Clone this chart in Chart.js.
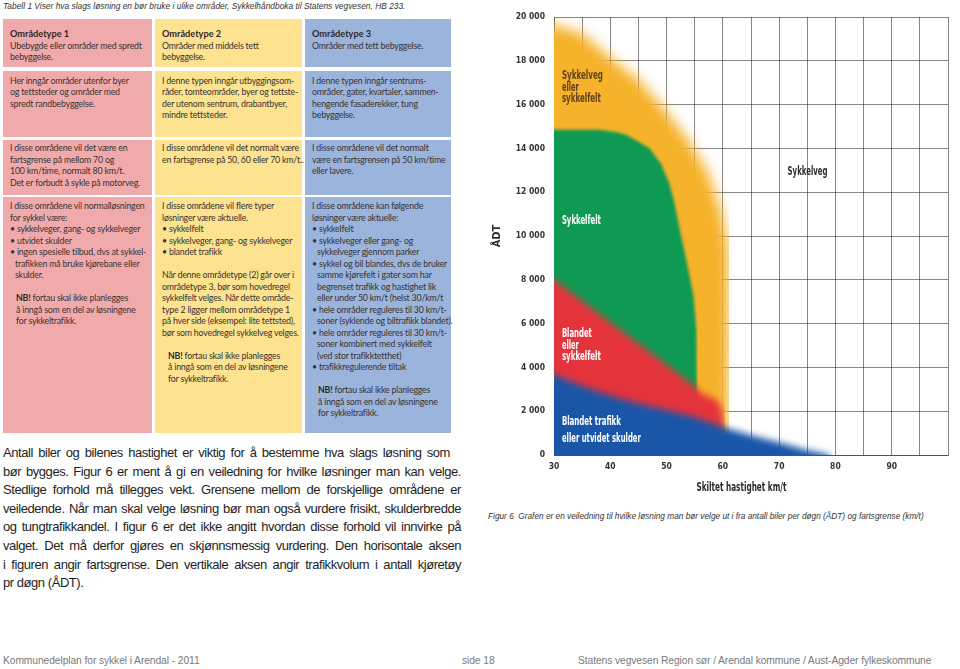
<!DOCTYPE html>
<html lang="no">
<head>
<meta charset="utf-8">
<title>Kommunedelplan for sykkel i Arendal</title>
<script src="https://cdn.jsdelivr.net/npm/chart.js@4.4.1/dist/chart.umd.min.js"></script>
<style>
  html, body { margin: 0; padding: 0; background: #fff; }
  body { width: 960px; height: 669px; position: relative; overflow: hidden; font-family: 'Liberation Sans', Arial, sans-serif; color: #222; }
  .abs { position: absolute; }
  .tabcap { left: 3px; top: 0; font-style: italic; font-size: 9.7px; line-height: 11px; color: #333; white-space: nowrap; transform: scaleX(0.865); transform-origin: 0 0; }
  .cell { position: absolute; box-sizing: border-box; padding-left: 7px; font-family: Lato, 'Open Sans', sans-serif; font-size: 8.8px; letter-spacing: -0.2px; line-height: 11.5px; color: #3a3232; white-space: nowrap; }
  .pink { background: #f1aaab; }
  .yel { background: #fde28f; }
  .blu { background: #9ab4dc; }
  .cell b { font-weight: 700; color: #33282a; }
  .cell .t { font-size: 9.2px; letter-spacing: 0; }
  .ind { padding-left: 5px; }
  .nb { padding-left: 6px; }
  .para { left: 3px; top: 444px; font-size: 13px; line-height: 18.6px; color: #1e1e1e; letter-spacing: -0.45px; }
  .para div { width: 458px; text-align: justify; text-align-last: justify; }
  .para div.first { width: 447px; }
  .para div.last { text-align-last: left; }
  .figcap { left: 488px; top: 511px; font-style: italic; font-size: 9.2px; color: #333; white-space: nowrap; transform: scaleX(0.9); transform-origin: 0 0; }
  .foot { top: 655px; font-size: 10.3px; color: #7a7a7a; white-space: nowrap; letter-spacing: -0.1px; }
  #chartBox { position: absolute; left: 484px; top: 0; width: 476px; height: 500px; }
</style>
</head>
<body>

<div class="abs tabcap">Tabell 1 Viser hva slags løsning en bør bruke i ulike områder, Sykkelhåndboka til Statens vegvesen, HB 233.</div>

<!-- rad 1 -->
<div class="cell pink" style="left:3px;top:19px;width:149px;height:48px;padding-top:9px">
  <div><b class="t">Områdetype 1</b></div><div>Ubebygde eller områder med spredt</div><div>bebyggelse.</div>
</div>
<div class="cell yel" style="left:155px;top:19px;width:147px;height:48px;padding-top:9px">
  <div><b class="t">Områdetype 2</b></div><div>Områder med middels tett</div><div>bebyggelse.</div>
</div>
<div class="cell blu" style="left:305px;top:19px;width:146px;height:48px;padding-top:9px">
  <div><b class="t">Områdetype 3</b></div><div>Områder med tett bebyggelse.</div>
</div>

<!-- rad 2 -->
<div class="cell pink" style="left:3px;top:71px;width:149px;height:66px;padding-top:3.5px">
  <div>Her inngår områder utenfor byer</div><div>og tettsteder og områder med</div><div>spredt randbebyggelse.</div>
</div>
<div class="cell yel" style="left:155px;top:71px;width:147px;height:66px;padding-top:3.5px">
  <div>I denne typen inngår utbyggingsom-</div><div>råder, tomteområder, byer og tettste-</div><div>der utenom sentrum, drabantbyer,</div><div>mindre tettsteder.</div>
</div>
<div class="cell blu" style="left:305px;top:71px;width:146px;height:66px;padding-top:3.5px">
  <div>I denne typen inngår sentrums-</div><div>områder, gater, kvartaler, sammen-</div><div>hengende fasaderekker, tung</div><div>bebyggelse.</div>
</div>

<!-- rad 3 -->
<div class="cell pink" style="left:3px;top:140px;width:149px;height:55px;padding-top:2px">
  <div>I disse områdene vil det være en</div><div>fartsgrense på mellom 70 og</div><div>100 km/time, normalt 80 km/t.</div><div>Det er forbudt å sykle på motorveg.</div>
</div>
<div class="cell yel" style="left:155px;top:140px;width:147px;height:55px;padding-top:2px">
  <div>I disse områdene vil det normalt være</div><div>en fartsgrense på 50, 60 eller 70 km/t..</div>
</div>
<div class="cell blu" style="left:305px;top:140px;width:146px;height:55px;padding-top:2px">
  <div>I disse områdene vil det normalt</div><div>være en fartsgrensen på 50 km/time</div><div>eller lavere.</div>
</div>

<!-- rad 4 -->
<div class="cell pink" style="left:3px;top:197px;width:149px;height:236px;padding-top:3px">
  <div>I disse områdene vil normalløsningen</div><div>for sykkel være:</div>
  <div>• sykkelveger, gang- og sykkelveger</div><div>• utvidet skulder</div>
  <div>• ingen spesielle tilbud, dvs at sykkel-</div><div class="ind">trafikken må bruke kjørebane eller</div><div class="ind">skulder.</div>
  <div>&nbsp;</div>
  <div class="nb"><b>NB!</b> fortau skal ikke planlegges</div><div class="nb">å inngå som en del av løsningene</div><div class="nb">for sykkeltrafikk.</div>
</div>
<div class="cell yel" style="left:155px;top:197px;width:147px;height:236px;padding-top:3px">
  <div>I disse områdene vil flere typer</div><div>løsninger være aktuelle.</div>
  <div>• sykkelfelt</div><div>• sykkelveger, gang- og sykkelveger</div><div>• blandet trafikk</div>
  <div>&nbsp;</div>
  <div>Når denne områdetype (2) går over i</div><div>områdetype 3, bør som hovedregel</div><div>sykkelfelt velges. Når dette område-</div><div>type 2 ligger mellom områdetype 1</div><div>på hver side (eksempel: lite tettsted),</div><div>bør som hovedregel sykkelveg velges.</div>
  <div>&nbsp;</div>
  <div class="nb"><b>NB!</b> fortau skal ikke planlegges</div><div class="nb">å inngå som en del av løsningene</div><div class="nb">for sykkeltrafikk.</div>
</div>
<div class="cell blu" style="left:305px;top:197px;width:146px;height:236px;padding-top:3px">
  <div>I disse områdene kan følgende</div><div>løsninger være aktuelle:</div>
  <div>• sykkelfelt</div><div>• sykkelveger eller gang- og</div><div class="ind">sykkelveger gjennom parker</div>
  <div>• sykkel og bil blandes, dvs de bruker</div><div class="ind">samme kjørefelt i gater som har</div><div class="ind">begrenset trafikk og hastighet lik</div><div class="ind">eller under 50 km/t (helst 30/km/t</div>
  <div>• hele områder reguleres til 30 km/t-</div><div class="ind">soner (syklende og biltrafikk blandet).</div>
  <div>• hele områder reguleres til 30 km/t-</div><div class="ind">soner kombinert med sykkelfelt</div><div class="ind">(ved stor trafikktetthet)</div>
  <div>• trafikkregulerende tiltak</div>
  <div>&nbsp;</div>
  <div class="nb"><b>NB!</b> fortau skal ikke planlegges</div><div class="nb">å inngå som en del av løsningene</div><div class="nb">for sykkeltrafikk.</div>
</div>

<div class="abs para">
  <div class="first">Antall biler og bilenes hastighet er viktig for å bestemme hva slags løsning som</div>
  <div>bør bygges. Figur 6 er ment å gi en veiledning for hvilke løsninger man kan velge.</div>
  <div>Stedlige forhold må tillegges vekt. Grensene mellom de forskjellige områdene er</div>
  <div>veiledende. Når man skal velge løsning bør man også vurdere frisikt, skulderbredde</div>
  <div>og tungtrafikkandel. I figur 6 er det ikke angitt hvordan disse forhold vil innvirke på</div>
  <div>valget. Det må derfor gjøres en skjønnsmessig vurdering. Den horisontale aksen</div>
  <div>i figuren angir fartsgrense. Den vertikale aksen angir trafikkvolum i antall kjøretøy</div>
  <div class="last">pr døgn (ÅDT).</div>
</div>

<div id="chartBox"><canvas id="adtChart"></canvas></div>

<div class="abs figcap">Figur 6&nbsp; Grafen er en veiledning til hvilke løsning man bør velge ut i fra antall biler per døgn (ÅDT) og fartsgrense (km/t)</div>

<div class="abs foot" style="left:3px">Kommunedelplan for sykkel i Arendal - 2011</div>
<div class="abs foot" style="left:462px">side 18</div>
<div class="abs foot" style="left:578px">Statens vegvesen Region sør / Arendal kommune / Aust-Agder fylkeskommune</div>

<script>
// ovre kant av hver sone, lest av figuren (x = skiltet hastighet km/t, y = ÅDT)
const blandetX = [25, 30, 35, 40, 45, 50, 55, 60, 65, 70, 75, 78, 79, 79.5];
const blandetY = [4100, 3680, 3150, 2700, 2350, 2050, 1720, 1280, 900, 570, 220, 60, 0, -3000];

const blandetFeltX = [25, 30, 35, 40, 45, 50, 55, 56.5, 58.9, 59.8, 60.2, 60.4];
const blandetFeltY = [9000, 8000, 7030, 6060, 5090, 4120, 3150, 2760, 2530, 2100, 1200, -3000];

const sykkelfeltX = [25, 30, 38, 41, 43, 45, 47, 49, 50.5, 51.5, 52.4, 53.6, 54.8, 55.3, 55.4, 55.5];
const sykkelfeltY = [14850, 14850, 14850, 14750, 14600, 14300, 14000, 13300, 12400, 11400, 10200, 8800, 7250, 5700, 3000, -3000];

const sykkelvegX = [25, 30, 35, 40, 45, 49.7, 53.8, 57.4, 59.8, 61, 61.1];
const sykkelvegY = [19800, 19650, 19250, 18140, 17150, 15780, 14400, 12900, 11070, 9500, -3000];

const fartLabels = [30, 40, 50, 60, 70, 80, 90];
const fartMin = 30, fartMax = 100;
const adtMin = 0, adtMax = 20000, adtStep = 2000;

const narrow = "'DejaVu Sans Condensed', 'Liberation Sans', sans-serif";

function pts(xs, ys) {
  return xs.map((x, i) => ({ x: x, y: ys[i] }));
}

// tekst inne i sonene
const zoneLabels = [
  { lines: ['Sykkelveg', 'eller', 'sykkelfelt'], x: 31.4, y: 17330, w: [41, 17, 39], color: '#5e3f1a' },
  { lines: ['Sykkelveg'], x: 71.5, y: 12960, w: [40], color: '#2b2b2b' },
  { lines: ['Sykkelfelt'], x: 31.4, y: 10680, w: [39], color: '#ffffff' },
  { lines: ['Blandet', 'eller', 'sykkelfelt'], x: 31.4, y: 5550, w: [30, 17, 39], color: '#ffffff' },
  { lines: ['Blandet trafikk'], x: 31.4, y: 1540, w: [59], color: '#ffffff' },
  { lines: ['eller utvidet skulder'], x: 31.4, y: 740, w: [79], color: '#ffffff' }
];

// uskarpe kanter: filler-pluginen tegner flatene, vi legger et blur-filter rundt
const filler = Chart.registry.getPlugin('filler');
const fillDraw = filler.beforeDatasetDraw;
filler.beforeDatasetDraw = function (chart, args, opts) {
  const ds = chart.data.datasets[args.index];
  const ctx = chart.ctx;
  ctx.save();
  if (ds.blur) ctx.filter = 'blur(' + ds.blur + 'px)';
  const r = fillDraw.call(this, chart, args, opts);
  ctx.restore();
  return r;
};

const zoneText = {
  id: 'zoneText',
  afterDraw(chart) {
    const { ctx, scales: { x, y } } = chart;
    ctx.save();
    ctx.font = 'bold 13px ' + narrow;
    ctx.textBaseline = 'middle';
    zoneLabels.forEach(l => {
      ctx.fillStyle = l.color;
      const px = x.getPixelForValue(l.x);
      const py = y.getPixelForValue(l.y);
      l.lines.forEach((t, i) => ctx.fillText(t, px, py + i * 11.7, l.w[i]));
    });
    // aksetittel under x-aksen, smal som i originalen
    ctx.fillStyle = '#2a2a2a';
    ctx.textAlign = 'center';
    ctx.fillText('Skiltet hastighet km/t', x.getPixelForValue(63.3), x.bottom - 12, 90);
    ctx.restore();
  }
};

function zone(label, data, color, blur) {
  return {
    label: label,
    data: data,
    backgroundColor: color,
    borderWidth: 0,
    pointRadius: 0,
    fill: { value: -3000 },
    blur: blur
  };
}

const gridColor = 'rgba(45,45,45,0.58)';

new Chart(document.getElementById('adtChart'), {
  type: 'line',
  data: {
    datasets: [
      zone('Blandet trafikk eller utvidet skulder', pts(blandetX, blandetY), '#1a56a8', 3.5),
      zone('Blandet eller sykkelfelt', pts(blandetFeltX, blandetFeltY), '#e5333b', 3.5),
      zone('Sykkelfelt', pts(sykkelfeltX, sykkelfeltY), '#0f9a53', 1.5),
      zone('Sykkelveg eller sykkelfelt', pts(sykkelvegX, sykkelvegY), '#f5b22a', 6.5)
    ]
  },
  options: {
    responsive: true,
    maintainAspectRatio: false,
    animation: false,
    layout: { padding: { top: 17, right: 12, left: 0, bottom: 0 } },
    plugins: {
      legend: { display: false },
      tooltip: { enabled: false }
    },
    scales: {
      x: {
        type: 'linear',
        min: fartMin,
        max: fartMax,
        z: 1,
        afterFit(s) { s.height = 45; },
        grid: { color: gridColor, lineWidth: 1, drawTicks: false },
        border: { display: true, color: gridColor },
        ticks: {
          stepSize: 5,
          autoSkip: false,
          maxRotation: 0,
          padding: 7,
          color: '#333',
          font: { family: narrow, size: 8.5, weight: 'bold' },
          callback: v => fartLabels.includes(v) ? String(v) : ''
        }
      },
      y: {
        min: adtMin,
        max: adtMax,
        z: 1,
        afterFit(s) { s.width = 70; },
        grid: { color: gridColor, lineWidth: 1, drawTicks: false },
        border: { display: true, color: gridColor },
        ticks: {
          stepSize: adtStep,
          padding: 9,
          color: '#333',
          font: { family: narrow, size: 8.5, weight: 'bold' },
          callback: v => String(v).replace(/\B(?=(\d{3})+(?!\d))/g, ' ')
        },
        title: {
          display: true,
          text: 'ÅDT',
          color: '#2a2a2a',
          font: { family: narrow, size: 11, weight: 'bold' },
          padding: { top: 7, bottom: 0 }
        }
      }
    }
  },
  plugins: [zoneText]
});
</script>
</body>
</html>
